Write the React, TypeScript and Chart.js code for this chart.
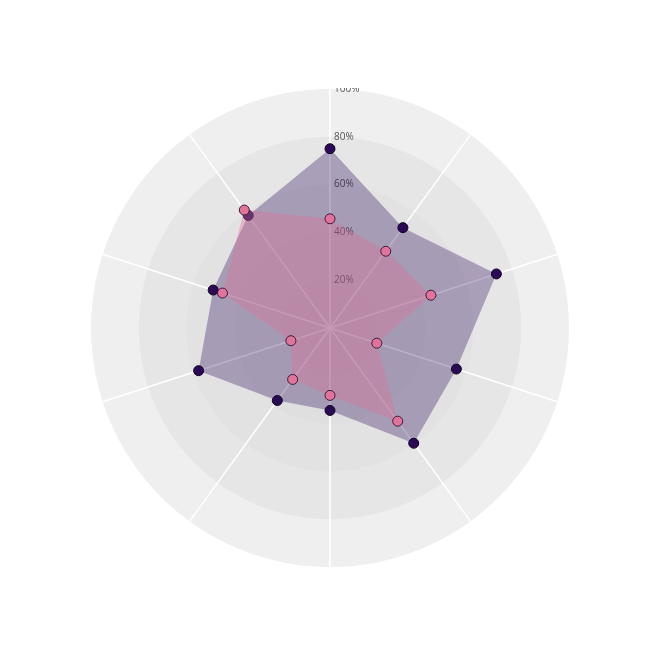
import React, { useEffect, useRef } from "react";
import { Chart, registerables } from "chart.js";

Chart.register(...registerables);

const categories = ["1", "2", "3", "4", "5", "6", "7", "8", "9", "10"];
const seriesDark = [75.0, 51.9, 73.2, 55.6, 59.6, 34.5, 37.5, 57.8, 51.4, 58.2];
const seriesPink = [45.7, 39.7, 44.4, 20.6, 48.2, 28.2, 26.6, 17.2, 47.3, 61.0];
const tickValues = [20, 40, 60, 80, 100];
const tickLabels = ["20%", "40%", "60%", "80%", "100%"];
const bandColors = ["#dcdcdc", "#dfdfdf", "#e2e2e2", "#e6e6e6", "#efefef"];

const bandsPlugin = {
  id: "bands",
  beforeDraw(chart: any) {
    const s = chart.scales.r;
    const ctx = chart.ctx;
    ctx.save();
    for (let i = tickValues.length - 1; i >= 0; i--) {
      const r = s.getDistanceFromCenterForValue(tickValues[i]);
      ctx.beginPath();
      ctx.arc(s.xCenter, s.yCenter, r, 0, Math.PI * 2);
      ctx.fillStyle = bandColors[i];
      ctx.fill();
    }
    ctx.restore();
  },
  beforeDatasetsDraw(chart: any) {
    const s = chart.scales.r;
    const ctx = chart.ctx;
    ctx.save();
    ctx.beginPath();
    const top = s.yCenter - s.drawingArea - 1;
    ctx.rect(0, top, chart.width, chart.height - top);
    ctx.clip();
    ctx.font = '10px "Open Sans", sans-serif';
    ctx.fillStyle = "#555555";
    ctx.textAlign = "left";
    ctx.textBaseline = "middle";
    tickValues.forEach((v, i) => {
      const y = s.yCenter - s.getDistanceFromCenterForValue(v);
      ctx.fillText(tickLabels[i], s.xCenter + 4, y);
    });
    ctx.restore();
  },
};

export default function App() {
  const ref = useRef<HTMLCanvasElement>(null);
  useEffect(() => {
    if (!ref.current) return;
    const chart = new Chart(ref.current, {
      type: "radar",
      data: {
        labels: categories,
        datasets: [
          {
            label: "B",
            data: seriesPink,
            fill: true,
            backgroundColor: "rgba(222, 112, 152, 0.38)",
            borderWidth: 0,
            borderColor: "rgba(0,0,0,0)",
            pointRadius: 5,
            pointBorderWidth: 1,
            pointBackgroundColor: "#e2739b",
            pointBorderColor: "#3a1f3a",
          },
          {
            label: "A",
            data: seriesDark,
            fill: true,
            backgroundColor: "rgba(42, 10, 86, 0.32)",
            borderWidth: 0,
            borderColor: "rgba(0,0,0,0)",
            pointRadius: 5,
            pointBorderWidth: 1,
            pointBackgroundColor: "#2a0a56",
            pointBorderColor: "#120420",
          },
        ],
      },
      options: {
        responsive: false,
        animation: false,
        layout: { padding: { left: 91, top: 89, right: 86, bottom: 88 } },
        plugins: {
          legend: { display: false },
          tooltip: { enabled: false },
        },
        scales: {
          r: {
            min: 0,
            max: 100,
            startAngle: 0,
            ticks: { display: false, stepSize: 20 },
            pointLabels: { display: false },
            grid: { display: true, color: "rgba(0,0,0,0)" },
            angleLines: { display: true, color: "#ffffff", lineWidth: 1.6 },
          },
        },
      },
      plugins: [bandsPlugin],
    });
    return () => chart.destroy();
  }, []);
  return (
    <div style={{ position: "absolute", left: 0, top: 0, width: 655, height: 655 }}>
      <canvas ref={ref} width={655} height={655} style={{ display: "block" }} />
    </div>
  );
}
